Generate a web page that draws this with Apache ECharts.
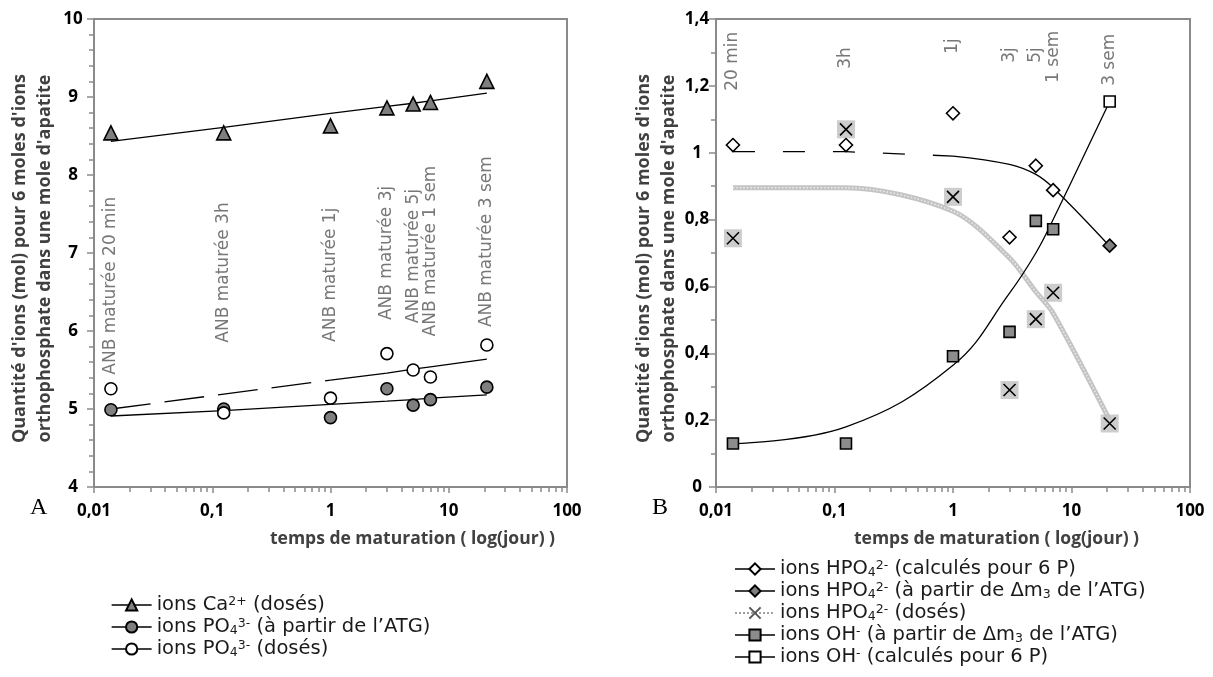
<!DOCTYPE html>
<html><head><meta charset="utf-8">
<script src="https://cdn.jsdelivr.net/npm/echarts@6/dist/echarts.min.js"></script>
<style>html,body{margin:0;padding:0;background:#fff}#c{width:1213px;height:677px}</style>
</head><body><div id="c"></div>
<script>
// ---------- data ----------
const timeDays = [0.0139, 0.125, 1, 3, 5, 7, 21];
const xTickLabels = ['0,01', '0,1', '1', '10', '100'];
const labelsA = ['ANB maturée 20 min', 'ANB maturée 3h', 'ANB maturée 1j', 'ANB maturée 3j', 'ANB maturée 5j', 'ANB maturée 1 sem', 'ANB maturée 3 sem'];
const labelsB = ['20 min', '3h', '1j', '3j', '5j', '1 sem', '3 sem'];
// annotation anchors (value of the lower end of each rotated label)
const labelAnchorA = [5.44, 5.85, 5.86, 6.14, 6.10, 5.93, 6.05];
const labelAnchorB = [1.185, 1.251, 1.296, 1.269, 1.269, 1.209, 1.200];

// chart A
const caDoses     = [8.54, 8.54, 8.63, 8.86, 8.91, 8.93, 9.20];
const caFit       = [8.43, 8.61, 8.79, 8.88, 8.92, 8.95, 9.05];
const po4Atg      = [4.99, 5.00, 4.89, 5.26, 5.05, 5.12, 5.28];
const po4AtgFit   = [4.91, 4.98, 5.06, 5.10, 5.12, 5.14, 5.18];
const po4Doses    = [5.26, 4.95, 5.14, 5.71, 5.50, 5.41, 5.82];
const po4DosesFit = [5.00, 5.19, 5.37, 5.46, 5.51, 5.54, 5.64];

// chart B
const hpo4Calc     = [1.023, 1.023, 1.118, 0.747, 0.961, 0.888, null];
const hpo4Atg      = [null, null, null, null, null, null, 0.722];
const hpo4CalcFit  = [1.003, 1.003, 0.990, 0.965, 0.935, 0.895, 0.720];
const hpo4Doses    = [0.744, 1.070, 0.868, 0.290, 0.502, 0.581, 0.190];
const hpo4DosesFit = [0.895, 0.895, 0.825, 0.685, 0.584, 0.520, 0.200];
const ohAtg        = [0.130, 0.130, 0.391, 0.464, 0.796, 0.771, null];
const ohCalc       = [null, null, null, null, null, null, 1.153];
const ohFit        = [0.130, 0.180, 0.364, 0.580, 0.700, 0.800, 1.153];

// ---------- helpers ----------
const pairs = (ys, from, to) => {
  const out = [];
  for (let i = (from || 0); i <= (to === undefined ? ys.length - 1 : to); i++) {
    if (ys[i] !== null) out.push([timeDays[i], ys[i]]);
  }
  return out;
};
const FONT_TXT = 'DejaVu Sans';
const FONT_BOLD = 'Open Sans';
const AX = '#8a8a8a';

const richStyles = {
  t:   { fontFamily: FONT_TXT, fontSize: 19.5, color: '#1a1a1a', lineHeight: 20 },
  sup: { fontFamily: FONT_TXT, fontSize: 12.5, color: '#1a1a1a', lineHeight: 13, verticalAlign: 'top' },
  sub: { fontFamily: FONT_TXT, fontSize: 12.5, color: '#1a1a1a', lineHeight: 12, verticalAlign: 'bottom' }
};
const legendTextA = {
  'Ca': '{t|ions Ca}{sup|2+}{t| (dosés)}',
  'PO4atg': '{t|ions PO}{sub|4}{sup|3-}{t| (à partir de l’ATG)}',
  'PO4dos': '{t|ions PO}{sub|4}{sup|3-}{t| (dosés)}'
};
const legendTextB = {
  'HPO4calc': '{t|ions HPO}{sub|4}{sup|2-}{t| (calculés pour 6 P)}',
  'HPO4atg': '{t|ions HPO}{sub|4}{sup|2-}{t| (à partir de Δm}{sub|3}{t| de l’ATG)}',
  'HPO4dos': '{t|ions HPO}{sub|4}{sup|2-}{t| (dosés)}',
  'OHatg': '{t|ions OH}{sup|-}{t| (à partir de Δm}{sub|3}{t| de l’ATG)}',
  'OHcalc': '{t|ions OH}{sup|-}{t| (calculés pour 6 P)}'
};

const xFmt = v => {
  const idx = Math.round(Math.log10(v)) + 2;
  return xTickLabels[idx] !== undefined ? xTickLabels[idx] : '';
};

function xAxisDef(gridIndex, padLeft) {
  return {
    gridIndex, type: 'log', logBase: 10, min: 0.01, max: 100,
    axisLine: { show: true, lineStyle: { color: AX, width: 2 } },
    axisTick: { show: true, length: 6, lineStyle: { color: AX, width: 1.5 } },
    minorTick: { show: true, splitNumber: 9, length: 5, lineStyle: { color: AX, width: 1.5 } },
    splitLine: { show: false }, minorSplitLine: { show: false },
    axisLabel: { margin: 16, fontFamily: FONT_BOLD, fontWeight: 'bold', fontSize: 17, color: '#000', formatter: xFmt },
    name: 'temps de maturation ( log(jour) )', nameLocation: 'middle', nameGap: 43,
    nameTextStyle: { fontFamily: FONT_BOLD, fontWeight: 'bold', fontSize: 17.5, color: '#404040', padding: [0, 0, 0, padLeft] }
  };
}
function yAxisDef(gridIndex, min, max, interval, minorSplit, fmt, labelMargin, nameGap) {
  return {
    gridIndex, type: 'value', min, max, interval,
    axisLine: { show: true, lineStyle: { color: AX, width: 2 } },
    axisTick: { show: true, length: 7, lineStyle: { color: AX, width: 1.5 } },
    minorTick: { show: true, splitNumber: minorSplit, length: 5, lineStyle: { color: AX, width: 1.5 } },
    splitLine: { show: false },
    axisLabel: { margin: labelMargin, align: 'center', fontFamily: FONT_BOLD, fontWeight: 'bold', fontSize: 17, color: '#000', formatter: fmt },
    name: 'Quantité d\'ions (mol) pour 6 moles d\'ions\northophosphate dans une mole d\'apatite',
    nameLocation: 'middle', nameGap, nameRotate: 90,
    nameTextStyle: { fontFamily: FONT_BOLD, fontWeight: 'bold', fontSize: 18, lineHeight: 25, color: '#404040', padding: [0, 11, 0, 0] }
  };
}

const fitLine = (name, xi, yi, data, extra) => Object.assign({
  name, type: 'line', xAxisIndex: xi, yAxisIndex: yi, data, symbol: 'none', silent: true,
  lineStyle: { color: '#000', width: 1.3 }, z: 2
}, extra || {});
const pointSeries = (name, xi, yi, data, symbol, size, fill, extra) => Object.assign({
  name, type: 'line', xAxisIndex: xi, yAxisIndex: yi, data, symbol, symbolSize: size, showSymbol: true,
  lineStyle: { opacity: 0 }, itemStyle: { color: fill, borderColor: '#000', borderWidth: 1.6 }, z: 5
}, extra || {});
const labelSeries = (xi, yi, anchors, texts) => ({
  type: 'scatter', xAxisIndex: xi, yAxisIndex: yi, silent: true, symbolSize: 0,
  data: anchors.map((a, i) => [timeDays[i], a]),
  label: {
    show: true, position: 'inside', rotate: 90, align: 'left', verticalAlign: 'middle',
    fontFamily: FONT_TXT, fontSize: 17, color: '#555',
    formatter: p => texts[p.dataIndex]
  }, z: 1
});

const X_PATH = 'path://M0,0L10,10M10,0L0,10';

const option = {
  animation: false,
  backgroundColor: '#fff',
  grid: [
    { left: 94, top: 19, width: 473, height: 468, show: true, borderColor: AX, borderWidth: 2 },
    { left: 716, top: 19, width: 474, height: 468, show: true, borderColor: AX, borderWidth: 2 }
  ],
  xAxis: [xAxisDef(0, 164), xAxisDef(1, 87)],
  yAxis: [
    yAxisDef(0, 4, 10, 1, 5, v => String(v), 21, 37),
    yAxisDef(1, 0, 1.4, 0.2, 2, v => String(+v.toFixed(1)).replace('.', ','), 19, 34)
  ],
  legend: [
    {
      orient: 'vertical', left: 106, top: 590, itemWidth: 40, itemHeight: 14, itemGap: 2,
      data: ['Ca', 'PO4atg', 'PO4dos'],
      formatter: n => legendTextA[n],
      textStyle: { rich: richStyles },
      lineStyle: { color: '#000', width: 1.3, opacity: 1, type: 'solid' },
      selectedMode: false
    },
    {
      orient: 'vertical', left: 729, top: 554, itemWidth: 40, itemHeight: 14, itemGap: 2,
      data: ['HPO4calc', 'HPO4atg',
        { name: 'HPO4dos', lineStyle: { color: '#a0a0a0', width: 2, type: 'dotted', opacity: 1 },
          itemStyle: { borderColor: '#555' } },
        'OHatg', 'OHcalc'],
      formatter: n => legendTextB[n],
      textStyle: { rich: richStyles },
      lineStyle: { color: '#000', width: 1.3, opacity: 1, type: 'solid' },
      selectedMode: false
    }
  ],
  graphic: [
    { type: 'text', left: 30, top: 496, style: { text: 'A', font: '24px "Liberation Serif"', fill: '#000' } },
    { type: 'text', left: 652, top: 496, style: { text: 'B', font: '24px "Liberation Serif"', fill: '#000' } }
  ],
  series: [
    // ----- chart A -----
    labelSeries(0, 0, labelAnchorA, labelsA),
    fitLine('CaFit', 0, 0, pairs(caFit)),
    fitLine('PO4atgFit', 0, 0, pairs(po4AtgFit)),
    fitLine('PO4dosFitDash', 0, 0, pairs(po4DosesFit, 0, 2), { lineStyle: { color: '#000', width: 1.3, type: [40, 14] } }),
    fitLine('PO4dosFit', 0, 0, pairs(po4DosesFit, 2)),
    pointSeries('Ca', 0, 0, pairs(caDoses), 'triangle', 14, '#7f7f7f'),
    pointSeries('PO4atg', 0, 0, pairs(po4Atg), 'circle', 12, '#7f7f7f'),
    pointSeries('PO4dos', 0, 0, pairs(po4Doses), 'circle', 12, '#ffffff'),
    // ----- chart B -----
    labelSeries(1, 1, labelAnchorB, labelsB),
    fitLine('HPO4dosFit', 1, 1, pairs(hpo4DosesFit), { smooth: 0.3, lineStyle: { color: '#c4c4c4', width: 5 } }),
    fitLine('HPO4dosFitTex', 1, 1, pairs(hpo4DosesFit), { smooth: 0.3, lineStyle: { color: '#ececec', width: 1.5, type: [1.5, 2] } }),
    fitLine('HPO4calcFitDash', 1, 1, pairs(hpo4CalcFit, 0, 2), { lineStyle: { color: '#000', width: 1.3, type: [22, 28] } }),
    fitLine('HPO4calcFit', 1, 1, pairs(hpo4CalcFit, 2), { smooth: 0.4 }),
    fitLine('OHFit', 1, 1, pairs(ohFit), { smooth: 0.4 }),
    {
      name: 'HPO4dosBg', type: 'scatter', xAxisIndex: 1, yAxisIndex: 1, silent: true,
      data: pairs(hpo4Doses), symbol: 'rect', symbolSize: 18,
      itemStyle: { color: '#c0c0c0' }, z: 4
    },
    pointSeries('HPO4dos', 1, 1, pairs(hpo4Doses), X_PATH, 12, 'rgba(0,0,0,0)', { itemStyle: { color: 'rgba(0,0,0,0)', borderColor: '#000', borderWidth: 1.6 } }),
    pointSeries('HPO4calc', 1, 1, pairs(hpo4Calc), 'diamond', 13, '#ffffff'),
    pointSeries('HPO4atg', 1, 1, pairs(hpo4Atg), 'diamond', 13, '#7f7f7f'),
    pointSeries('OHatg', 1, 1, pairs(ohAtg), 'rect', 11, '#8c8c8c'),
    pointSeries('OHcalc', 1, 1, pairs(ohCalc), 'rect', 11, '#ffffff')
  ]
};

const chart = echarts.init(document.getElementById('c'), null, { renderer: 'canvas' });
chart.setOption(option);
</script>
</body></html>
